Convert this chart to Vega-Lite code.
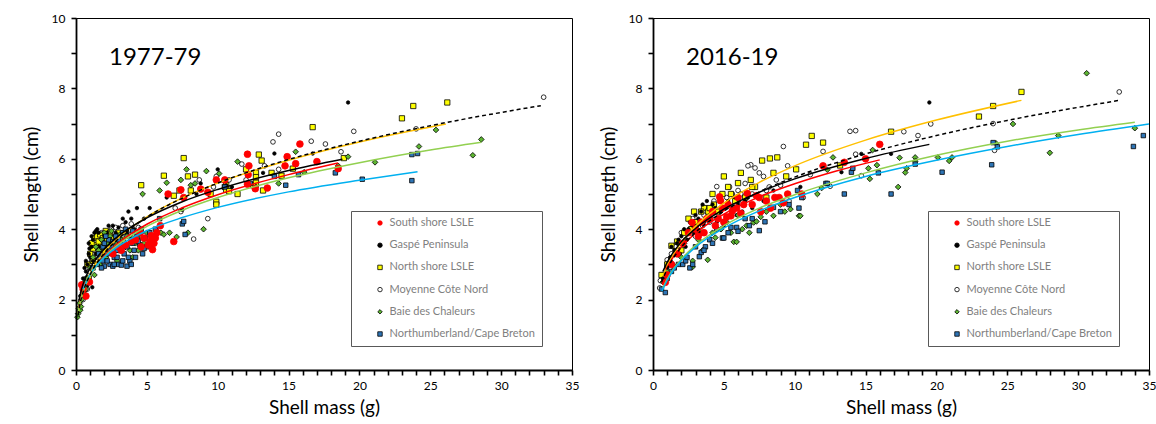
{
  "$schema": "https://vega.github.io/schema/vega-lite/v6.json",
  "background": "white",
  "padding": {"left": 21, "top": 11, "right": 2, "bottom": 2},
  "bounds": "flush",
  "spacing": 81,
  "config": {
    "font": "Lato",
    "view": {"stroke": "#000000", "strokeWidth": 1},
    "axis": {
      "grid": false, "domain": true, "domainColor": "#000000", "domainWidth": 1.8,
      "tickColor": "#000000", "tickSize": 5, "tickWidth": 1.6,
      "labelFont": "Lato", "labelFontSize": 12, "labelColor": "#000000",
      "titleFont": "Lato", "titleFontSize": 19, "titleFontWeight": "normal", "titleColor": "#000000"
    },
    "axisX": {"labelFlush": false, "labelPadding": 5, "titlePadding": 7},
    "axisY": {"labelPadding": 6, "titlePadding": 10},
    "legend": {
      "orient": "none", "legendX": 275, "legendY": 193,
      "strokeColor": "#595959", "padding": 6.5, "rowPadding": 10.2,
      "labelFont": "Lato", "labelFontSize": 11, "labelColor": "#7f7f7f",
      "symbolOffset": 17, "labelOffset": 4, "symbolStrokeWidth": 0.8, "symbolSize": 20
    },
    "title": {"font": "Lato", "fontSize": 24, "fontWeight": "normal", "color": "#000000"}
  },
  "resolve": {
    "scale": {"fill": "independent", "stroke": "independent", "shape": "independent", "color": "independent"},
    "legend": {"fill": "independent", "stroke": "independent", "shape": "independent"}
  },
  "datasets": {
    "groups": [
      {"g": "S", "name": "South shore LSLE"},
      {"g": "G", "name": "Gaspé Peninsula"},
      {"g": "N", "name": "North shore LSLE"},
      {"g": "M", "name": "Moyenne Côte Nord"},
      {"g": "B", "name": "Baie des Chaleurs"},
      {"g": "C", "name": "Northumberland/Cape Breton"}
    ],
    "p77": [
      {"g":"M","m":0.3,"l":1.8},{"g":"M","m":0.4,"l":2.0},{"g":"M","m":0.5,"l":2.2},{"g":"M","m":0.6,"l":2.4},{"g":"M","m":0.7,"l":2.6},{"g":"M","m":0.9,"l":2.8},{"g":"M","m":1.0,"l":3.0},{"g":"M","m":1.2,"l":3.3},{"g":"M","m":1.4,"l":3.5},{"g":"M","m":1.6,"l":3.7},{"g":"M","m":1.8,"l":3.9},{"g":"M","m":2.0,"l":3.6},{"g":"M","m":2.2,"l":3.8},{"g":"M","m":2.5,"l":4.0},{"g":"M","m":2.7,"l":3.7},{"g":"M","m":3.0,"l":3.8},{"g":"M","m":3.3,"l":4.1},{"g":"M","m":3.6,"l":3.9},{"g":"M","m":1.5,"l":3.2},{"g":"M","m":1.9,"l":3.4},{"g":"M","m":2.3,"l":3.5},{"g":"M","m":2.8,"l":4.05},{"g":"M","m":3.9,"l":4.15},{"g":"M","m":4.4,"l":4.05},{"g":"M","m":0.5,"l":2.0},{"g":"M","m":0.8,"l":2.3},{"g":"M","m":2.1,"l":3.2},{"g":"M","m":2.6,"l":3.4},{"g":"M","m":3.1,"l":3.5},{"g":"M","m":1.7,"l":3.3},{"g":"M","m":1.3,"l":3.4},{"g":"M","m":2.4,"l":3.85},{"g":"M","m":3.4,"l":3.6},{"g":"M","m":4.1,"l":3.7},{"g":"M","m":1.1,"l":3.1},{"g":"M","m":0.65,"l":2.5},
      {"g":"M","m":7.0,"l":4.6},{"g":"M","m":7.4,"l":4.5},{"g":"M","m":8.3,"l":3.72},{"g":"M","m":9.3,"l":4.3},{"g":"M","m":8.7,"l":5.4},{"g":"M","m":9.9,"l":5.5},{"g":"M","m":10.8,"l":5.4},{"g":"M","m":11.7,"l":5.85},{"g":"M","m":13.3,"l":5.8},{"g":"M","m":13.9,"l":6.48},{"g":"M","m":14.3,"l":6.7},{"g":"M","m":14.3,"l":5.7},{"g":"M","m":16.6,"l":6.5},{"g":"M","m":17.6,"l":6.42},{"g":"M","m":18.7,"l":6.2},{"g":"M","m":19.6,"l":6.78},{"g":"M","m":24.0,"l":6.85},{"g":"M","m":33.0,"l":7.75},{"g":"M","m":12.0,"l":5.4},{"g":"M","m":9.7,"l":5.2},
      {"g":"N","m":0.8,"l":3.0},{"g":"N","m":1.0,"l":3.3},{"g":"N","m":1.2,"l":3.1},{"g":"N","m":1.3,"l":3.75},{"g":"N","m":1.5,"l":3.8},{"g":"N","m":1.8,"l":3.6},{"g":"N","m":2.0,"l":3.4},{"g":"N","m":2.1,"l":3.95},{"g":"N","m":2.4,"l":3.9},{"g":"N","m":2.7,"l":3.75},{"g":"N","m":1.4,"l":3.55},{"g":"N","m":1.7,"l":3.85},{"g":"N","m":2.3,"l":3.6},{"g":"N","m":3.0,"l":3.9},{"g":"N","m":3.3,"l":3.7},{"g":"N","m":0.9,"l":2.6},{"g":"N","m":0.6,"l":2.3},{"g":"N","m":1.1,"l":3.6},{"g":"N","m":1.6,"l":3.65},{"g":"N","m":1.9,"l":3.75},{"g":"N","m":2.2,"l":3.7},{"g":"N","m":2.9,"l":3.8},{"g":"N","m":1.2,"l":3.45},
      {"g":"N","m":4.6,"l":5.25},{"g":"N","m":6.2,"l":5.52},{"g":"N","m":6.9,"l":4.95},{"g":"N","m":7.3,"l":5.1},{"g":"N","m":7.6,"l":6.02},{"g":"N","m":7.9,"l":5.5},{"g":"N","m":8.1,"l":5.1},{"g":"N","m":8.4,"l":5.55},{"g":"N","m":9.5,"l":5.0},{"g":"N","m":9.9,"l":4.78},{"g":"N","m":9.9,"l":4.7},{"g":"N","m":10.5,"l":5.2},{"g":"N","m":10.6,"l":5.25},{"g":"N","m":10.6,"l":5.12},{"g":"N","m":10.8,"l":5.08},{"g":"N","m":11.4,"l":5.0},{"g":"N","m":12.0,"l":5.7},{"g":"N","m":12.5,"l":5.25},{"g":"N","m":12.7,"l":5.6},{"g":"N","m":12.7,"l":5.48},{"g":"N","m":12.7,"l":5.32},{"g":"N","m":12.9,"l":6.12},{"g":"N","m":13.1,"l":5.95},{"g":"N","m":13.2,"l":5.1},{"g":"N","m":13.8,"l":5.6},{"g":"N","m":14.5,"l":5.52},{"g":"N","m":15.3,"l":5.72},{"g":"N","m":16.7,"l":6.9},{"g":"N","m":18.9,"l":6.02},{"g":"N","m":23.0,"l":7.15},{"g":"N","m":23.8,"l":7.5},{"g":"N","m":26.2,"l":7.6},
      {"g":"G","m":0.3,"l":2.1},{"g":"G","m":0.5,"l":2.35},{"g":"G","m":0.8,"l":2.4},{"g":"G","m":1.15,"l":2.35},{"g":"G","m":0.6,"l":2.9},{"g":"G","m":0.7,"l":3.1},{"g":"G","m":0.8,"l":3.0},{"g":"G","m":0.9,"l":3.3},{"g":"G","m":1.0,"l":3.2},{"g":"G","m":0.9,"l":3.6},{"g":"G","m":1.1,"l":3.5},{"g":"G","m":1.2,"l":3.7},{"g":"G","m":1.3,"l":3.9},{"g":"G","m":1.5,"l":4.0},{"g":"G","m":1.2,"l":3.1},{"g":"G","m":1.4,"l":3.3},{"g":"G","m":1.6,"l":3.5},{"g":"G","m":1.8,"l":3.7},{"g":"G","m":2.0,"l":3.8},{"g":"G","m":2.2,"l":3.9},{"g":"G","m":2.6,"l":4.1},{"g":"G","m":2.4,"l":3.6},{"g":"G","m":2.8,"l":3.9},{"g":"G","m":3.0,"l":4.05},{"g":"G","m":3.3,"l":4.3},{"g":"G","m":3.5,"l":4.2},{"g":"G","m":3.7,"l":4.5},{"g":"G","m":3.9,"l":4.3},{"g":"G","m":4.3,"l":4.6},{"g":"G","m":4.8,"l":4.3},{"g":"G","m":5.2,"l":4.6},{"g":"G","m":6.4,"l":4.9},{"g":"G","m":3.2,"l":3.7},{"g":"G","m":3.6,"l":3.9},{"g":"G","m":4.1,"l":4.0},{"g":"G","m":2.0,"l":3.3},{"g":"G","m":1.7,"l":3.1},{"g":"G","m":1.0,"l":2.9},{"g":"G","m":7.5,"l":4.55},{"g":"G","m":8.5,"l":5.0},{"g":"G","m":8.8,"l":5.3},{"g":"G","m":10.0,"l":5.7},{"g":"G","m":11.0,"l":5.2},{"g":"G","m":13.2,"l":5.6},{"g":"G","m":14.0,"l":6.15},{"g":"G","m":16.7,"l":6.15},{"g":"G","m":19.2,"l":7.6},{"g":"G","m":10.6,"l":5.25},{"g":"G","m":0.5,"l":2.6},{"g":"G","m":2.9,"l":3.6},{"g":"G","m":1.1,"l":3.8},{"g":"G","m":1.4,"l":3.95},{"g":"G","m":0.7,"l":2.8},{"g":"G","m":1.6,"l":3.9},{"g":"G","m":2.3,"l":4.1},{"g":"G","m":0.95,"l":3.45},
      {"g":"B","m":0.1,"l":1.5},{"g":"B","m":0.15,"l":1.6},{"g":"B","m":0.2,"l":1.75},{"g":"B","m":0.3,"l":1.7},{"g":"B","m":0.25,"l":1.9},{"g":"B","m":0.4,"l":2.0},{"g":"B","m":0.5,"l":2.2},{"g":"B","m":0.6,"l":2.5},{"g":"B","m":0.7,"l":2.3},{"g":"B","m":0.35,"l":1.8},{"g":"B","m":0.8,"l":2.6},{"g":"B","m":1.3,"l":2.7},
      {"g":"B","m":1.0,"l":2.9},{"g":"B","m":1.2,"l":3.2},{"g":"B","m":1.4,"l":3.5},{"g":"B","m":1.6,"l":3.4},{"g":"B","m":1.8,"l":3.7},{"g":"B","m":2.0,"l":3.9},{"g":"B","m":2.2,"l":3.6},{"g":"B","m":2.4,"l":3.8},{"g":"B","m":2.6,"l":3.3},{"g":"B","m":2.8,"l":3.6},{"g":"B","m":3.0,"l":3.4},{"g":"B","m":3.2,"l":3.7},{"g":"B","m":3.5,"l":3.5},{"g":"B","m":3.8,"l":3.4},{"g":"B","m":4.0,"l":3.2},{"g":"B","m":4.2,"l":3.6},{"g":"B","m":4.5,"l":3.8},{"g":"B","m":4.8,"l":3.6},{"g":"B","m":5.0,"l":3.9},{"g":"B","m":5.3,"l":3.7},{"g":"B","m":5.7,"l":3.95},{"g":"B","m":6.0,"l":3.9},{"g":"B","m":6.2,"l":3.85},{"g":"B","m":6.6,"l":3.9},{"g":"B","m":3.3,"l":3.9},{"g":"B","m":2.1,"l":3.2},{"g":"B","m":1.7,"l":3.0},{"g":"B","m":2.9,"l":3.1},{"g":"B","m":3.6,"l":3.8},{"g":"B","m":4.4,"l":3.4},{"g":"B","m":1.9,"l":3.5},{"g":"B","m":2.5,"l":3.95},{"g":"B","m":3.1,"l":3.85},{"g":"B","m":4.0,"l":3.75},{"g":"B","m":4.6,"l":3.9},{"g":"B","m":5.5,"l":3.8},
      {"g":"B","m":7.1,"l":3.78},{"g":"B","m":7.9,"l":3.9},{"g":"B","m":9.0,"l":4.0},{"g":"B","m":4.7,"l":5.0},{"g":"B","m":5.9,"l":5.1},{"g":"B","m":6.4,"l":5.32},{"g":"B","m":7.4,"l":5.4},{"g":"B","m":7.8,"l":5.7},{"g":"B","m":8.1,"l":5.25},{"g":"B","m":8.4,"l":5.3},{"g":"B","m":9.2,"l":5.65},{"g":"B","m":10.1,"l":5.58},{"g":"B","m":11.4,"l":5.92},{"g":"B","m":12.7,"l":5.2},{"g":"B","m":14.3,"l":5.3},{"g":"B","m":15.5,"l":6.2},{"g":"B","m":16.1,"l":5.62},{"g":"B","m":18.5,"l":5.8},{"g":"B","m":19.2,"l":6.06},{"g":"B","m":21.1,"l":5.9},{"g":"B","m":24.2,"l":6.35},{"g":"B","m":25.4,"l":6.82},{"g":"B","m":28.0,"l":6.1},{"g":"B","m":28.6,"l":6.55},
      {"g":"C","m":1.2,"l":2.9},{"g":"C","m":1.5,"l":3.0},{"g":"C","m":1.7,"l":3.2},{"g":"C","m":1.9,"l":3.1},{"g":"C","m":2.0,"l":2.95},{"g":"C","m":2.2,"l":3.3},{"g":"C","m":2.4,"l":3.0},{"g":"C","m":2.5,"l":3.5},{"g":"C","m":2.7,"l":3.2},{"g":"C","m":2.9,"l":3.4},{"g":"C","m":3.0,"l":3.0},{"g":"C","m":3.2,"l":2.98},{"g":"C","m":3.1,"l":3.6},{"g":"C","m":3.4,"l":3.3},{"g":"C","m":3.6,"l":3.5},{"g":"C","m":3.8,"l":3.1},{"g":"C","m":3.9,"l":3.7},{"g":"C","m":4.1,"l":3.4},{"g":"C","m":4.3,"l":3.8},{"g":"C","m":4.5,"l":3.55},{"g":"C","m":4.7,"l":3.3},{"g":"C","m":4.9,"l":3.75},{"g":"C","m":5.2,"l":3.9},{"g":"C","m":5.5,"l":3.7},{"g":"C","m":5.6,"l":4.0},{"g":"C","m":2.3,"l":3.7},{"g":"C","m":2.8,"l":3.8},{"g":"C","m":3.3,"l":3.9},{"g":"C","m":3.5,"l":4.0},{"g":"C","m":1.9,"l":3.5},{"g":"C","m":2.1,"l":3.8},{"g":"C","m":2.6,"l":2.95},{"g":"C","m":4.0,"l":3.95},{"g":"C","m":4.6,"l":4.0},{"g":"C","m":2.0,"l":3.6},{"g":"C","m":2.6,"l":3.65},{"g":"C","m":3.7,"l":3.2},{"g":"C","m":4.2,"l":3.2},{"g":"C","m":5.0,"l":3.5},{"g":"C","m":1.6,"l":3.3},{"g":"C","m":2.2,"l":3.1},{"g":"C","m":2.9,"l":3.2},{"g":"C","m":3.3,"l":3.1},{"g":"C","m":3.6,"l":2.95},{"g":"C","m":4.0,"l":3.6},{"g":"C","m":4.4,"l":3.65},{"g":"C","m":4.8,"l":3.45},{"g":"C","m":5.3,"l":3.55},{"g":"C","m":2.4,"l":3.4},{"g":"C","m":3.0,"l":3.7},{"g":"C","m":1.8,"l":2.9},{"g":"C","m":2.7,"l":3.0},{"g":"C","m":3.9,"l":3.0},
      {"g":"C","m":5.9,"l":4.3},{"g":"C","m":7.5,"l":4.15},{"g":"C","m":7.6,"l":4.22},{"g":"C","m":7.7,"l":3.85},{"g":"C","m":10.5,"l":5.2},{"g":"C","m":12.3,"l":5.3},{"g":"C","m":14.0,"l":5.5},{"g":"C","m":14.8,"l":5.25},{"g":"C","m":15.7,"l":5.55},{"g":"C","m":18.3,"l":5.6},{"g":"C","m":20.2,"l":5.42},{"g":"C","m":23.7,"l":6.12},{"g":"C","m":24.1,"l":6.15},{"g":"C","m":23.7,"l":5.38},
      {"g":"S","m":0.4,"l":2.42},{"g":"S","m":0.5,"l":2.3},{"g":"S","m":0.95,"l":2.5},{"g":"S","m":0.7,"l":2.1},{"g":"S","m":3.5,"l":3.55},{"g":"S","m":3.9,"l":3.65},{"g":"S","m":4.5,"l":3.9},{"g":"S","m":4.8,"l":3.75},{"g":"S","m":5.3,"l":3.82},{"g":"S","m":5.4,"l":3.42},{"g":"S","m":5.5,"l":3.6},{"g":"S","m":5.2,"l":3.65},{"g":"S","m":5.95,"l":4.1},{"g":"S","m":5.7,"l":3.9},{"g":"S","m":6.9,"l":3.65},{"g":"S","m":6.5,"l":5.0},{"g":"S","m":7.4,"l":5.12},{"g":"S","m":7.6,"l":4.9},{"g":"S","m":8.8,"l":5.14},{"g":"S","m":9.3,"l":5.05},{"g":"S","m":9.9,"l":5.4},{"g":"S","m":10.5,"l":5.4},{"g":"S","m":12.1,"l":6.13},{"g":"S","m":12.15,"l":5.55},{"g":"S","m":12.1,"l":5.28},{"g":"S","m":12.2,"l":5.8},{"g":"S","m":12.65,"l":5.15},{"g":"S","m":13.5,"l":5.17},{"g":"S","m":14.75,"l":5.8},{"g":"S","m":14.9,"l":6.06},{"g":"S","m":15.5,"l":5.86},{"g":"S","m":15.8,"l":6.42},{"g":"S","m":17.0,"l":5.92},{"g":"S","m":18.5,"l":5.72},{"g":"S","m":4.2,"l":3.7},{"g":"S","m":3.0,"l":3.5},{"g":"S","m":2.6,"l":3.3},{"g":"S","m":3.2,"l":3.4},{"g":"S","m":4.6,"l":3.5},{"g":"S","m":5.1,"l":3.55},{"g":"S","m":5.6,"l":3.75}
    ],
    "p16": [
      {"g":"M","m":0.47,"l":2.33},{"g":"M","m":0.52,"l":2.54},{"g":"M","m":0.64,"l":2.71},{"g":"M","m":1.0,"l":3.13},{"g":"M","m":1.3,"l":3.3},{"g":"M","m":1.6,"l":3.5},{"g":"M","m":2.0,"l":3.9},{"g":"M","m":2.3,"l":3.7},{"g":"M","m":2.6,"l":4.0},{"g":"M","m":3.0,"l":3.8},{"g":"M","m":3.3,"l":4.2},{"g":"M","m":3.6,"l":4.4},{"g":"M","m":4.0,"l":4.2},{"g":"M","m":4.5,"l":5.21},{"g":"M","m":4.8,"l":4.8},{"g":"M","m":5.2,"l":4.9},{"g":"M","m":5.6,"l":5.0},{"g":"M","m":6.0,"l":5.1},{"g":"M","m":6.5,"l":5.3},{"g":"M","m":6.9,"l":5.83},{"g":"M","m":7.2,"l":5.74},{"g":"M","m":7.5,"l":5.6},{"g":"M","m":7.8,"l":5.5},{"g":"M","m":8.2,"l":5.2},{"g":"M","m":8.7,"l":5.4},{"g":"M","m":9.2,"l":6.35},{"g":"M","m":9.5,"l":5.8},{"g":"M","m":9.6,"l":4.8},{"g":"M","m":10.6,"l":4.9},{"g":"M","m":11.1,"l":5.55},{"g":"M","m":12.0,"l":6.21},{"g":"M","m":12.5,"l":5.22},{"g":"M","m":13.9,"l":6.78},{"g":"M","m":14.3,"l":6.8},{"g":"M","m":14.3,"l":6.13},{"g":"M","m":14.7,"l":5.52},{"g":"M","m":17.7,"l":6.77},{"g":"M","m":18.7,"l":6.66},{"g":"M","m":19.6,"l":6.99},{"g":"M","m":24.0,"l":7.0},{"g":"M","m":24.1,"l":6.24},{"g":"M","m":32.9,"l":7.9},{"g":"M","m":5.0,"l":4.6},{"g":"M","m":7.0,"l":5.0},{"g":"M","m":3.8,"l":4.6},{"g":"M","m":1.8,"l":3.6},{"g":"M","m":2.8,"l":4.3},{"g":"M","m":3.5,"l":4.1},{"g":"M","m":4.3,"l":4.8},{"g":"M","m":5.4,"l":5.2},{"g":"M","m":6.2,"l":5.0},{"g":"M","m":6.7,"l":5.8},{"g":"M","m":8.0,"l":5.1},{"g":"M","m":9.0,"l":5.25},
      {"g":"N","m":0.6,"l":2.7},{"g":"N","m":1.0,"l":3.0},{"g":"N","m":1.3,"l":3.53},{"g":"N","m":1.7,"l":3.65},{"g":"N","m":2.0,"l":3.4},{"g":"N","m":2.5,"l":4.3},{"g":"N","m":2.7,"l":4.0},{"g":"N","m":3.0,"l":4.2},{"g":"N","m":3.3,"l":3.9},{"g":"N","m":3.6,"l":4.6},{"g":"N","m":3.9,"l":4.5},{"g":"N","m":4.2,"l":5.0},{"g":"N","m":4.3,"l":4.7},{"g":"N","m":4.6,"l":4.5},{"g":"N","m":5.0,"l":5.5},{"g":"N","m":5.3,"l":5.2},{"g":"N","m":5.5,"l":5.0},{"g":"N","m":5.8,"l":4.8},{"g":"N","m":6.0,"l":5.31},{"g":"N","m":6.5,"l":4.9},{"g":"N","m":6.9,"l":5.4},{"g":"N","m":7.2,"l":5.2},{"g":"N","m":7.7,"l":5.95},{"g":"N","m":8.25,"l":6.01},{"g":"N","m":8.77,"l":6.04},{"g":"N","m":8.5,"l":5.6},{"g":"N","m":9.4,"l":5.5},{"g":"N","m":10.1,"l":5.7},{"g":"N","m":10.8,"l":6.4},{"g":"N","m":11.2,"l":6.65},{"g":"N","m":12.0,"l":6.46},{"g":"N","m":13.2,"l":5.81},{"g":"N","m":16.8,"l":6.77},{"g":"N","m":23.0,"l":7.2},{"g":"N","m":24.0,"l":7.5},{"g":"N","m":26.0,"l":7.9},{"g":"N","m":3.4,"l":4.5},{"g":"N","m":8.0,"l":4.9},{"g":"N","m":2.2,"l":3.9},{"g":"N","m":2.9,"l":4.5},{"g":"N","m":4.0,"l":4.6},{"g":"N","m":4.9,"l":5.0},{"g":"N","m":6.2,"l":5.6},{"g":"N","m":7.0,"l":5.2},
      {"g":"G","m":0.7,"l":2.6},{"g":"G","m":1.0,"l":2.9},{"g":"G","m":1.2,"l":3.2},{"g":"G","m":1.5,"l":3.4},{"g":"G","m":1.7,"l":3.6},{"g":"G","m":2.0,"l":3.8},{"g":"G","m":2.2,"l":4.0},{"g":"G","m":2.4,"l":3.7},{"g":"G","m":2.6,"l":4.2},{"g":"G","m":2.8,"l":4.1},{"g":"G","m":3.0,"l":4.4},{"g":"G","m":3.2,"l":4.3},{"g":"G","m":3.4,"l":4.5},{"g":"G","m":3.6,"l":4.2},{"g":"G","m":3.8,"l":4.8},{"g":"G","m":4.0,"l":4.4},{"g":"G","m":4.2,"l":4.7},{"g":"G","m":4.4,"l":4.6},{"g":"G","m":4.6,"l":4.3},{"g":"G","m":4.8,"l":4.5},{"g":"G","m":5.0,"l":4.1},{"g":"G","m":5.3,"l":4.8},{"g":"G","m":5.6,"l":4.6},{"g":"G","m":6.0,"l":4.7},{"g":"G","m":6.3,"l":4.5},{"g":"G","m":6.7,"l":4.9},{"g":"G","m":7.0,"l":4.6},{"g":"G","m":7.8,"l":4.8},{"g":"G","m":8.5,"l":5.1},{"g":"G","m":10.4,"l":5.2},{"g":"G","m":13.3,"l":5.62},{"g":"G","m":14.7,"l":6.14},{"g":"G","m":16.8,"l":6.14},{"g":"G","m":19.5,"l":7.6},{"g":"G","m":2.3,"l":3.5},{"g":"G","m":3.3,"l":3.9},{"g":"G","m":1.9,"l":3.3},{"g":"G","m":5.8,"l":4.9},{"g":"G","m":1.3,"l":3.5},{"g":"G","m":1.8,"l":3.7},{"g":"G","m":2.5,"l":4.0},{"g":"G","m":3.1,"l":4.1},{"g":"G","m":3.5,"l":4.7},{"g":"G","m":4.5,"l":4.2},{"g":"G","m":5.1,"l":4.6},{"g":"G","m":5.9,"l":4.4},{"g":"G","m":6.5,"l":4.8},{"g":"G","m":2.9,"l":3.9},
      {"g":"B","m":0.7,"l":2.5},{"g":"B","m":1.0,"l":2.8},{"g":"B","m":1.4,"l":3.0},{"g":"B","m":1.8,"l":3.3},{"g":"B","m":2.2,"l":3.6},{"g":"B","m":2.8,"l":3.1},{"g":"B","m":2.8,"l":2.93},{"g":"B","m":3.2,"l":3.7},{"g":"B","m":3.86,"l":3.13},{"g":"B","m":4.4,"l":3.76},{"g":"B","m":4.8,"l":4.0},{"g":"B","m":5.2,"l":4.2},{"g":"B","m":5.7,"l":3.64},{"g":"B","m":5.9,"l":3.64},{"g":"B","m":6.3,"l":4.0},{"g":"B","m":6.6,"l":4.1},{"g":"B","m":7.1,"l":4.19},{"g":"B","m":7.3,"l":4.22},{"g":"B","m":8.0,"l":4.5},{"g":"B","m":8.5,"l":4.38},{"g":"B","m":9.0,"l":4.7},{"g":"B","m":9.7,"l":4.57},{"g":"B","m":10.3,"l":4.38},{"g":"B","m":10.4,"l":4.38},{"g":"B","m":11.6,"l":5.0},{"g":"B","m":11.9,"l":5.17},{"g":"B","m":12.3,"l":5.69},{"g":"B","m":12.7,"l":6.04},{"g":"B","m":15.2,"l":5.73},{"g":"B","m":15.3,"l":5.43},{"g":"B","m":15.5,"l":6.25},{"g":"B","m":15.8,"l":5.82},{"g":"B","m":17.3,"l":5.2},{"g":"B","m":17.4,"l":6.03},{"g":"B","m":17.8,"l":5.61},{"g":"B","m":17.9,"l":5.73},{"g":"B","m":18.5,"l":6.04},{"g":"B","m":18.5,"l":5.93},{"g":"B","m":20.1,"l":6.04},{"g":"B","m":20.9,"l":5.94},{"g":"B","m":21.1,"l":6.04},{"g":"B","m":24.2,"l":6.44},{"g":"B","m":25.4,"l":6.99},{"g":"B","m":28.0,"l":6.17},{"g":"B","m":28.6,"l":6.66},{"g":"B","m":30.6,"l":8.43},{"g":"B","m":34.0,"l":6.87},{"g":"B","m":5.5,"l":3.9},{"g":"B","m":6.0,"l":4.4},{"g":"B","m":2.0,"l":3.2},{"g":"B","m":3.5,"l":3.4},{"g":"B","m":4.2,"l":3.9},{"g":"B","m":6.8,"l":3.9},{"g":"B","m":7.6,"l":4.35},{"g":"B","m":9.3,"l":4.5},
      {"g":"C","m":0.6,"l":2.3},{"g":"C","m":0.87,"l":2.2},{"g":"C","m":1.0,"l":2.6},{"g":"C","m":1.3,"l":2.8},{"g":"C","m":1.8,"l":3.0},{"g":"C","m":2.1,"l":3.0},{"g":"C","m":2.6,"l":2.9},{"g":"C","m":2.8,"l":3.0},{"g":"C","m":3.27,"l":3.22},{"g":"C","m":3.4,"l":3.34},{"g":"C","m":3.0,"l":3.5},{"g":"C","m":3.7,"l":3.5},{"g":"C","m":4.0,"l":3.7},{"g":"C","m":4.9,"l":3.75},{"g":"C","m":5.0,"l":3.75},{"g":"C","m":5.5,"l":4.05},{"g":"C","m":5.9,"l":4.05},{"g":"C","m":6.0,"l":3.94},{"g":"C","m":6.5,"l":4.3},{"g":"C","m":7.5,"l":3.96},{"g":"C","m":7.9,"l":4.21},{"g":"C","m":8.5,"l":4.62},{"g":"C","m":9.6,"l":4.7},{"g":"C","m":10.2,"l":5.1},{"g":"C","m":10.3,"l":4.6},{"g":"C","m":10.5,"l":4.9},{"g":"C","m":12.2,"l":5.3},{"g":"C","m":12.3,"l":5.3},{"g":"C","m":13.5,"l":5.0},{"g":"C","m":14.0,"l":5.62},{"g":"C","m":14.1,"l":5.73},{"g":"C","m":15.9,"l":5.6},{"g":"C","m":16.8,"l":5.0},{"g":"C","m":18.5,"l":5.85},{"g":"C","m":20.4,"l":5.62},{"g":"C","m":23.9,"l":5.83},{"g":"C","m":24.0,"l":6.46},{"g":"C","m":24.3,"l":6.34},{"g":"C","m":33.9,"l":6.35},{"g":"C","m":34.6,"l":6.66},{"g":"C","m":2.3,"l":3.1},{"g":"C","m":4.5,"l":4.0},{"g":"C","m":1.5,"l":2.9},{"g":"C","m":2.4,"l":3.2},{"g":"C","m":3.6,"l":3.4},{"g":"C","m":4.2,"l":3.6},{"g":"C","m":5.3,"l":3.9},{"g":"C","m":6.8,"l":4.1},{"g":"C","m":7.0,"l":4.3},{"g":"C","m":9.0,"l":4.5},
      {"g":"S","m":0.87,"l":2.49},{"g":"S","m":1.0,"l":2.7},{"g":"S","m":1.3,"l":3.0},{"g":"S","m":1.7,"l":3.3},{"g":"S","m":2.1,"l":3.6},{"g":"S","m":2.5,"l":3.9},{"g":"S","m":2.76,"l":4.19},{"g":"S","m":3.0,"l":4.0},{"g":"S","m":3.4,"l":4.2},{"g":"S","m":3.8,"l":4.3},{"g":"S","m":4.2,"l":4.5},{"g":"S","m":4.7,"l":4.92},{"g":"S","m":4.76,"l":4.81},{"g":"S","m":5.0,"l":4.2},{"g":"S","m":5.2,"l":4.35},{"g":"S","m":5.5,"l":4.38},{"g":"S","m":5.6,"l":4.52},{"g":"S","m":5.9,"l":4.6},{"g":"S","m":6.2,"l":4.45},{"g":"S","m":6.65,"l":5.02},{"g":"S","m":7.0,"l":4.7},{"g":"S","m":7.5,"l":4.9},{"g":"S","m":7.6,"l":4.5},{"g":"S","m":8.0,"l":4.8},{"g":"S","m":8.6,"l":4.9},{"g":"S","m":8.9,"l":4.9},{"g":"S","m":9.2,"l":4.75},{"g":"S","m":9.5,"l":5.0},{"g":"S","m":10.5,"l":5.0},{"g":"S","m":12.0,"l":5.8},{"g":"S","m":13.5,"l":5.9},{"g":"S","m":15.0,"l":6.0},{"g":"S","m":16.0,"l":6.41},{"g":"S","m":3.6,"l":3.9},{"g":"S","m":4.4,"l":4.1},{"g":"S","m":6.0,"l":4.9},{"g":"S","m":7.3,"l":4.95},{"g":"S","m":4.9,"l":4.6},{"g":"S","m":3.2,"l":3.8},{"g":"S","m":4.0,"l":4.3},{"g":"S","m":4.6,"l":4.3},{"g":"S","m":5.3,"l":4.7},{"g":"S","m":6.4,"l":4.7},{"g":"S","m":8.3,"l":4.6}
    ],
    "f77": [
      {"g":"N","m":0.15,"l":1.6},{"g":"N","m":0.3,"l":1.94},{"g":"N","m":0.5,"l":2.25},{"g":"N","m":1,"l":2.75},{"g":"N","m":2,"l":3.35},{"g":"N","m":3,"l":3.76},{"g":"N","m":5,"l":4.35},{"g":"N","m":7.5,"l":4.89},{"g":"N","m":10,"l":5.31},{"g":"N","m":15,"l":5.96},{"g":"N","m":20,"l":6.48},{"g":"N","m":26.1,"l":6.99},
      {"g":"G","m":0.2,"l":1.95},{"g":"G","m":0.3,"l":2.15},{"g":"G","m":0.5,"l":2.44},{"g":"G","m":1,"l":2.9},{"g":"G","m":2,"l":3.44},{"g":"G","m":3,"l":3.81},{"g":"G","m":5,"l":4.32},{"g":"G","m":7.5,"l":4.78},{"g":"G","m":10,"l":5.13},{"g":"G","m":15,"l":5.67},{"g":"G","m":18.8,"l":5.99},
      {"g":"S","m":0.2,"l":1.75},{"g":"S","m":0.3,"l":1.95},{"g":"S","m":0.5,"l":2.24},{"g":"S","m":1,"l":2.69},{"g":"S","m":2,"l":3.24},{"g":"S","m":3,"l":3.61},{"g":"S","m":5,"l":4.14},{"g":"S","m":7.5,"l":4.61},{"g":"S","m":10,"l":4.98},{"g":"S","m":15,"l":5.55},{"g":"S","m":18.5,"l":5.88},
      {"g":"B","m":0.15,"l":1.62},{"g":"B","m":0.3,"l":1.94},{"g":"B","m":0.5,"l":2.22},{"g":"B","m":1,"l":2.67},{"g":"B","m":2,"l":3.21},{"g":"B","m":3,"l":3.57},{"g":"B","m":5,"l":4.08},{"g":"B","m":7.5,"l":4.54},{"g":"B","m":10,"l":4.9},{"g":"B","m":15,"l":5.46},{"g":"B","m":20,"l":5.89},{"g":"B","m":25,"l":6.25},{"g":"B","m":28.6,"l":6.47},
      {"g":"C","m":0.5,"l":2.3},{"g":"C","m":1,"l":2.72},{"g":"C","m":2,"l":3.2},{"g":"C","m":3,"l":3.52},{"g":"C","m":5,"l":3.96},{"g":"C","m":7.5,"l":4.33},{"g":"C","m":10,"l":4.62},{"g":"C","m":15,"l":5.06},{"g":"C","m":20,"l":5.39},{"g":"C","m":24.1,"l":5.63},
      {"g":"M","m":0.15,"l":1.56},{"g":"M","m":0.3,"l":1.91},{"g":"M","m":0.5,"l":2.21},{"g":"M","m":1,"l":2.71},{"g":"M","m":2,"l":3.32},{"g":"M","m":3,"l":3.73},{"g":"M","m":5,"l":4.34},{"g":"M","m":7.5,"l":4.88},{"g":"M","m":10,"l":5.31},{"g":"M","m":15,"l":5.98},{"g":"M","m":20,"l":6.5},{"g":"M","m":25,"l":6.94},{"g":"M","m":32.8,"l":7.51}
    ],
    "f16": [
      {"g":"N","m":0.7,"l":2.67},{"g":"N","m":1,"l":2.96},{"g":"N","m":1.5,"l":3.33},{"g":"N","m":2,"l":3.62},{"g":"N","m":3,"l":4.08},{"g":"N","m":5,"l":4.74},{"g":"N","m":7.5,"l":5.33},{"g":"N","m":10,"l":5.8},{"g":"N","m":15,"l":6.53},{"g":"N","m":20,"l":7.1},{"g":"N","m":26,"l":7.66},
      {"g":"G","m":0.7,"l":2.8},{"g":"G","m":1,"l":3.06},{"g":"G","m":1.5,"l":3.38},{"g":"G","m":2,"l":3.64},{"g":"G","m":3,"l":4.02},{"g":"G","m":5,"l":4.57},{"g":"G","m":7.5,"l":5.05},{"g":"G","m":10,"l":5.43},{"g":"G","m":15,"l":6.01},{"g":"G","m":19.5,"l":6.41},
      {"g":"S","m":0.9,"l":2.85},{"g":"S","m":1.5,"l":3.25},{"g":"S","m":2,"l":3.5},{"g":"S","m":3,"l":3.89},{"g":"S","m":5,"l":4.43},{"g":"S","m":7.5,"l":4.92},{"g":"S","m":10,"l":5.29},{"g":"S","m":13,"l":5.66},{"g":"S","m":16,"l":5.97},
      {"g":"B","m":0.7,"l":2.33},{"g":"B","m":1,"l":2.58},{"g":"B","m":1.5,"l":2.9},{"g":"B","m":2,"l":3.15},{"g":"B","m":3,"l":3.54},{"g":"B","m":5,"l":4.1},{"g":"B","m":7.5,"l":4.6},{"g":"B","m":10,"l":4.98},{"g":"B","m":15,"l":5.6},{"g":"B","m":20,"l":6.1},{"g":"B","m":25,"l":6.5},{"g":"B","m":30,"l":6.82},{"g":"B","m":34,"l":7.04},
      {"g":"C","m":0.63,"l":2.24},{"g":"C","m":1,"l":2.55},{"g":"C","m":1.5,"l":2.87},{"g":"C","m":2,"l":3.11},{"g":"C","m":3,"l":3.49},{"g":"C","m":5,"l":4.03},{"g":"C","m":7.5,"l":4.52},{"g":"C","m":10,"l":4.9},{"g":"C","m":15,"l":5.5},{"g":"C","m":20,"l":5.96},{"g":"C","m":25,"l":6.35},{"g":"C","m":30,"l":6.69},{"g":"C","m":35,"l":6.99},
      {"g":"M","m":0.6,"l":2.49},{"g":"M","m":1,"l":2.87},{"g":"M","m":1.5,"l":3.22},{"g":"M","m":2,"l":3.49},{"g":"M","m":3,"l":3.91},{"g":"M","m":5,"l":4.51},{"g":"M","m":7.5,"l":5.06},{"g":"M","m":10,"l":5.48},{"g":"M","m":15,"l":6.14},{"g":"M","m":20,"l":6.66},{"g":"M","m":25,"l":7.09},{"g":"M","m":32.9,"l":7.66}
    ]
  },
  "hconcat": [
    {
      "width": 496, "height": 352,
      "title": {"text": "1977-79", "anchor": "start", "frame": "group", "offset": -77, "dx": 33, "baseline": "alphabetic"},
      "encoding": {
        "x": {"field": "m", "type": "quantitative", "scale": {"domain": [0, 35], "nice": false},
          "axis": {"title": "Shell mass (g)", "zindex": 1, "ticks": true, "domain": true, "tickSize": 5, "tickWidth": 1.6, "tickColor": "#000000", "labelOverlap": false, "values": [0,1,2,3,4,5,6,7,8,9,10,11,12,13,14,15,16,17,18,19,20,21,22,23,24,25,26,27,28,29,30,31,32,33,34,35], "labelExpr": "datum.value % 5 === 0 ? datum.label : ''"}},
        "y": {"field": "l", "type": "quantitative", "scale": {"domain": [0, 10], "nice": false},
          "axis": {"title": "Shell length (cm)", "titleY": 176, "zindex": 1, "ticks": true, "domain": true, "tickSize": 5, "tickWidth": 1.6, "tickColor": "#000000", "labelOverlap": false, "values": [0,1,2,3,4,5,6,7,8,9,10], "labelExpr": "datum.value % 2 === 0 ? datum.label : ''"}}
      },
      "layer": [
        {
          "data": {"name": "p77"},
          "transform": [{"lookup": "g", "from": {"data": {"name": "groups"}, "key": "g", "fields": ["name"]}}],
          "mark": {"type": "point", "filled": true, "opacity": 1, "strokeWidth": 0.8},
          "encoding": {
            "fill": {"field": "name", "type": "nominal", "title": null, "scale": {"domain": ["South shore LSLE", "Gaspé Peninsula", "North shore LSLE", "Moyenne Côte Nord", "Baie des Chaleurs", "Northumberland/Cape Breton"], "range": ["#ff0000", "#000000", "#ffff00", "#ffffff", "#5cb531", "#2e75b6"]}},
            "stroke": {"field": "name", "type": "nominal", "title": null, "scale": {"domain": ["South shore LSLE", "Gaspé Peninsula", "North shore LSLE", "Moyenne Côte Nord", "Baie des Chaleurs", "Northumberland/Cape Breton"], "range": ["#ff0000", "#000000", "#000000", "#000000", "#000000", "#000000"]}},
            "shape": {"field": "name", "type": "nominal", "title": null, "scale": {"domain": ["South shore LSLE", "Gaspé Peninsula", "North shore LSLE", "Moyenne Côte Nord", "Baie des Chaleurs", "Northumberland/Cape Breton"], "range": ["circle", "circle", "square", "circle", "diamond", "square"]}},
            "size": {"condition": [{"test": "datum.g === 'S'", "value": 45}, {"test": "datum.g === 'G'", "value": 12}, {"test": "datum.g === 'N'", "value": 28}, {"test": "datum.g === 'M'", "value": 22}, {"test": "datum.g === 'B'", "value": 32}], "value": 20}
          }
        },
        {
          "data": {"name": "f77"},
          "transform": [{"filter": "datum.g !== 'M'"}],
          "mark": {"type": "line", "strokeWidth": 1.5, "interpolate": "monotone"},
          "encoding": {
            "color": {"field": "g", "type": "nominal", "legend": null, "scale": {"domain": ["S", "G", "N", "B", "C"], "range": ["#ff0000", "#000000", "#ffc000", "#92d050", "#00b0f0"]}}
          }
        },
        {
          "data": {"name": "f77"},
          "transform": [{"filter": "datum.g === 'M'"}],
          "mark": {"type": "line", "strokeWidth": 1.5, "interpolate": "monotone", "strokeDash": [4, 3], "color": "#000000"},
          "encoding": {}
        }
      ]
    },
    {
      "width": 496, "height": 352,
      "title": {"text": "2016-19", "anchor": "start", "frame": "group", "offset": -77, "dx": 33, "baseline": "alphabetic"},
      "encoding": {
        "x": {"field": "m", "type": "quantitative", "scale": {"domain": [0, 35], "nice": false},
          "axis": {"title": "Shell mass (g)", "zindex": 1, "ticks": true, "domain": true, "tickSize": 5, "tickWidth": 1.6, "tickColor": "#000000", "labelOverlap": false, "values": [0,1,2,3,4,5,6,7,8,9,10,11,12,13,14,15,16,17,18,19,20,21,22,23,24,25,26,27,28,29,30,31,32,33,34,35], "labelExpr": "datum.value % 5 === 0 ? datum.label : ''"}},
        "y": {"field": "l", "type": "quantitative", "scale": {"domain": [0, 10], "nice": false},
          "axis": {"title": "Shell length (cm)", "titleY": 176, "zindex": 1, "ticks": true, "domain": true, "tickSize": 5, "tickWidth": 1.6, "tickColor": "#000000", "labelOverlap": false, "values": [0,1,2,3,4,5,6,7,8,9,10], "labelExpr": "datum.value % 2 === 0 ? datum.label : ''"}}
      },
      "layer": [
        {
          "data": {"name": "p16"},
          "transform": [{"lookup": "g", "from": {"data": {"name": "groups"}, "key": "g", "fields": ["name"]}}],
          "mark": {"type": "point", "filled": true, "opacity": 1, "strokeWidth": 0.8},
          "encoding": {
            "fill": {"field": "name", "type": "nominal", "title": null, "scale": {"domain": ["South shore LSLE", "Gaspé Peninsula", "North shore LSLE", "Moyenne Côte Nord", "Baie des Chaleurs", "Northumberland/Cape Breton"], "range": ["#ff0000", "#000000", "#ffff00", "#ffffff", "#5cb531", "#2e75b6"]}},
            "stroke": {"field": "name", "type": "nominal", "title": null, "scale": {"domain": ["South shore LSLE", "Gaspé Peninsula", "North shore LSLE", "Moyenne Côte Nord", "Baie des Chaleurs", "Northumberland/Cape Breton"], "range": ["#ff0000", "#000000", "#000000", "#000000", "#000000", "#000000"]}},
            "shape": {"field": "name", "type": "nominal", "title": null, "scale": {"domain": ["South shore LSLE", "Gaspé Peninsula", "North shore LSLE", "Moyenne Côte Nord", "Baie des Chaleurs", "Northumberland/Cape Breton"], "range": ["circle", "circle", "square", "circle", "diamond", "square"]}},
            "size": {"condition": [{"test": "datum.g === 'S'", "value": 45}, {"test": "datum.g === 'G'", "value": 12}, {"test": "datum.g === 'N'", "value": 28}, {"test": "datum.g === 'M'", "value": 22}, {"test": "datum.g === 'B'", "value": 32}], "value": 20}
          }
        },
        {
          "data": {"name": "f16"},
          "transform": [{"filter": "datum.g !== 'M'"}],
          "mark": {"type": "line", "strokeWidth": 1.5, "interpolate": "monotone"},
          "encoding": {
            "color": {"field": "g", "type": "nominal", "legend": null, "scale": {"domain": ["S", "G", "N", "B", "C"], "range": ["#ff0000", "#000000", "#ffc000", "#92d050", "#00b0f0"]}}
          }
        },
        {
          "data": {"name": "f16"},
          "transform": [{"filter": "datum.g === 'M'"}],
          "mark": {"type": "line", "strokeWidth": 1.5, "interpolate": "monotone", "strokeDash": [4, 3], "color": "#000000"},
          "encoding": {}
        }
      ]
    }
  ]
}
